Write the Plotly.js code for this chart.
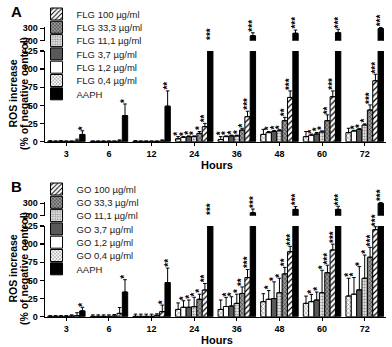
<!DOCTYPE html>
<html><head><meta charset="utf-8">
<script src="https://cdn.plot.ly/plotly-3.0.1.min.js"></script>
<style>html,body{margin:0;padding:0;background:#fff}#chart{width:392px;height:347px}</style>
</head><body><div id="chart"></div>
<script>
// ---------- DATA ----------
const hours = ['3', '6', '12', '24', '36', '48', '60', '72'];
const concLabels = ['0,4', '1,2', '3,7', '11,1', '33,3', '100'];

// Panel A (FLG), ROS increase (% of negative control)
const flg04  = [0.5, 0.5, 0.5, 4, 3, 10, 7, 12.5];
const flg12  = [0.5, 0.5, 0.5, 6, 7, 12.5, 9, 14.7];
const flg37  = [0.8, 0.5, 0.5, 7, 8, 14, 10.6, 17];
const flg111 = [0.5, 0.5, 0.5, 7, 8, 15, 13.4, 23];
const flg333 = [0.5, 0.5, 0.5, 11.5, 16, 29, 29, 43.7];
const flg100 = [1, 1, 1, 20.7, 34.5, 61, 62, 84];
const aaphA  = [10, 36, 49, 160, 240, 260, 265, 298];
const flg04Err  = [1, 0.5, 1, 3, 4, 7, 7, 6];
const flg12Err  = [0.5, 0.5, 0.5, 1, 1, 1.5, 1.5, 1];
const flg37Err  = [0.5, 0.5, 0.5, 1, 1, 1.5, 2, 1];
const flg111Err = [0.5, 0.5, 0.5, 1, 1, 1.5, 1.5, 1.5];
const flg333Err = [0.5, 0.5, 0.5, 2.5, 2.5, 4.5, 8, 7];
const flg100Err = [2.5, 1.5, 1.5, 4.5, 7.5, 9, 8, 9];
const aaphAErr  = [5, 16, 21, 15, 24, 26, 27, 8];
const flg04Sig  = ['', '', '', '*', '*', '', '', ''];
const flg12Sig  = ['', '', '', '*', '*', '*', '*', '*'];
const flg37Sig  = ['', '', '', '*', '*', '*', '*', '*'];
const flg111Sig = ['', '', '', '*', '*', '*', '*', '*'];
const flg333Sig = ['', '', '', '*', '*', '**', '**', '***'];
const flg100Sig = ['', '', '', '**', '***', '***', '***', '***'];
const aaphASig  = ['*', '*', '**', '***', '***', '***', '***', '***'];

// Panel B (GO)
const go04  = [0.5, 0.5, 0.5, 10, 10, 20.7, 18.4, 28.5];
const go12  = [0.5, 0.5, 0.5, 13, 14, 24, 20.7, 31];
const go37  = [0.5, 0.5, 0.5, 13, 14.7, 25, 23, 37];
const go111 = [0.5, 0.5, 0.5, 13.8, 18.4, 33, 33, 53];
const go333 = [1, 1, 2, 24, 32, 59, 60.6, 82];
const go100 = [1.5, 4.6, 7, 36.8, 54, 89.6, 92, 120];
const aaphB = [8, 34, 47, 165, 224, 251, 251, 300];
const go04Err  = [1, 2, 3, 9, 13, 11, 10, 24.5];
const go12Err  = [1, 2, 3, 9, 12.7, 12, 10, 23];
const go37Err  = [1, 2, 3, 10, 12.8, 23, 11, 32];
const go111Err = [1, 2, 3, 13, 12.6, 20, 31, 32];
const go333Err = [1.5, 2, 2, 7, 9, 9, 10.4, 13.6];
const go100Err = [4, 8, 9, 9, 11, 7.4, 8, 4];
const aaphBErr = [5, 17, 20, 15, 30, 22, 25, 8];
const go04Sig  = ['', '', '', '', '', '', '', '*'];
const go12Sig  = ['', '', '', '*', '*', '*', '*', '*'];
const go37Sig  = ['', '', '', '*', '*', '*', '*', '*'];
const go111Sig = ['', '', '', '*', '*', '*', '*', '*'];
const go333Sig = ['', '', '', '*', '**', '**', '***', '***'];
const go100Sig = ['', '', '*', '**', '***', '***', '***', '***'];
const aaphBSig = ['*', '*', '**', '***', '***', '***', '***', '***'];

// ---------- STYLE / LAYOUT ----------
const H = 347, W = 392, ML = 44.5, MR = 5.5;
const PW = W - ML - MR;
const py = y => (H - y) / H;          // pixel y -> paper fraction
const px = x => (x - ML) / PW;        // pixel x -> paper fraction
const FONT = 'Liberation Sans, Arial, sans-serif';
const BARGAP = 0.12;
const xIdx = hours.map((h, i) => i);

const styles = [
  {color: '#ffffff', pattern: {shape: 'x', fgcolor: '#7a7a7a', bgcolor: '#ffffff', size: 3, solidity: 0.35}},
  {color: '#ffffff'},
  {color: '#595959'},
  {color: '#ffffff', pattern: {shape: '.', fgcolor: '#8a8a8a', bgcolor: '#e6e6e6', size: 3, solidity: 0.4}},
  {color: '#9a9a9a', pattern: {shape: 'x', fgcolor: '#2b2b2b', bgcolor: '#9a9a9a', size: 3, solidity: 0.35}},
  {color: '#ffffff', pattern: {shape: '/', fgcolor: '#000000', bgcolor: '#ffffff', size: 4, solidity: 0.3}},
  {color: '#000000'}
];
// legend order: 100, 33.3, 11.1, 3.7, 1.2, 0.4, AAPH
const legendSlot = [5, 4, 3, 2, 1, 0, 6];

const panels = [
  {prefix: 'FLG', vals: [flg04, flg12, flg37, flg111, flg333, flg100, aaphA],
   errs: [flg04Err, flg12Err, flg37Err, flg111Err, flg333Err, flg100Err, aaphAErr],
   sigs: [flg04Sig, flg12Sig, flg37Sig, flg111Sig, flg333Sig, flg100Sig, aaphASig],
   xa: 'x', lo: 'y', hi: 'y2', off: 0, legBase: 0},
  {prefix: 'GO', vals: [go04, go12, go37, go111, go333, go100, aaphB],
   errs: [go04Err, go12Err, go37Err, go111Err, go333Err, go100Err, aaphBErr],
   sigs: [go04Sig, go12Sig, go37Sig, go111Sig, go333Sig, go100Sig, aaphBSig],
   xa: 'x2', lo: 'y3', hi: 'y4', off: 175, legBase: 7}
];

const traces = [];
const annotations = [];
const layout = {
  width: W, height: H,
  margin: {l: ML, r: MR, t: 0, b: 0, autoexpand: false},
  paper_bgcolor: '#fff', plot_bgcolor: 'rgba(0,0,0,0)',
  barmode: 'group', bargap: BARGAP, bargroupgap: 0,
  font: {family: FONT, color: '#000'},
  showlegend: true
};

const tickfont = {family: FONT, size: 9, color: '#000', weight: 'bold'};
const axCommon = {showgrid: false, zeroline: false, showline: true, linecolor: '#000', linewidth: 1.5,
  ticks: 'outside', tickcolor: '#000', tickwidth: 1.5, tickfont: tickfont, fixedrange: true};

const bw = (1 - BARGAP) / 7;

panels.forEach((p, pi) => {
  const xName = pi === 0 ? 'xaxis' : 'xaxis2';
  const loName = pi === 0 ? 'yaxis' : 'yaxis3';
  const hiName = pi === 0 ? 'yaxis2' : 'yaxis4';
  const hiTop = 312;
  const upBottomPx = 40.7 + p.off, upScale = 0.124;
  layout[xName] = Object.assign({}, axCommon, {
    domain: [0, 1], anchor: p.lo, range: [-0.5, 7.5],
    tickvals: xIdx, ticktext: hours, ticklen: 3, tickwidth: 1
  });
  layout[loName] = Object.assign({}, axCommon, {
    domain: [py(141.7 + p.off), py(51 + p.off)], anchor: p.xa, range: [0, 125],
    tickvals: [0, 25, 50, 75, 100, 125], ticklen: 4
  });
  layout[hiName] = Object.assign({}, axCommon, {
    domain: [py(upBottomPx), py(upBottomPx - (hiTop - 200) * upScale)], anchor: p.xa, range: [200, hiTop],
    tickvals: [200, 300], ticklen: 4
  });

  for (let k = 0; k < 7; k++) {
    const name = k === 6 ? 'AAPH' : (p.prefix + ' ' + concLabels[k] + ' µg/ml');
    const legIdx = p.legBase + legendSlot[k] + 1;
    const legName = legIdx === 1 ? 'legend' : 'legend' + legIdx;
    const st = styles[k];
    const marker = {color: st.color, line: {color: '#000', width: 1}};
    if (st.pattern) marker.pattern = Object.assign({fillmode: 'replace'}, st.pattern);
    [p.lo, p.hi].forEach((ya, j) => {
      traces.push({
        type: 'bar', x: xIdx, y: p.vals[k], name: name,
        xaxis: p.xa, yaxis: ya, marker: marker,
        error_y: {type: 'data', array: p.errs[k], arrayminus: p.errs[k].map(() => 0), symmetric: false,
                  color: '#000', thickness: 1, width: 1.8},
        showlegend: j === 0, legend: legName, hoverinfo: 'skip'
      });
    });
    // legend box
    const slot = legendSlot[k];
    layout[legName] = {
      x: px(36), y: py(14 + slot * 13.3 + p.off), xanchor: 'left', yanchor: 'middle',
      bgcolor: 'rgba(0,0,0,0)', borderwidth: 0,
      font: {family: FONT, size: 9.5, color: '#1a1a1a'}, itemclick: false, itemdoubleclick: false
    };
    // significance stars
    for (let i = 0; i < hours.length; i++) {
      const s = p.sigs[k][i];
      if (!s) continue;
      const top = p.vals[k][i] + p.errs[k][i];
      let yref, yv;
      if (top <= 125) { yref = p.lo; yv = top; }
      else if (top < 200) { yref = p.hi; yv = 200; }
      else { yref = p.hi; yv = top; }
      annotations.push({
        x: i + (k - 3) * bw, y: yv, xref: p.xa, yref: yref,
        text: s, textangle: -90, showarrow: false, xanchor: 'center', yanchor: 'bottom',
        font: {family: FONT, size: 10, color: '#000', weight: 'bold'}, borderpad: 0, yshift: 0
      });
    }
  }

  // axis titles and labels
  annotations.push({xref: 'paper', yref: 'paper', x: px(12), y: py(94 + p.off), text: 'ROS increase',
    textangle: -90, showarrow: false, xanchor: 'center', yanchor: 'middle',
    font: {family: FONT, size: 10.5, color: '#000', weight: 'bold'}});
  annotations.push({xref: 'paper', yref: 'paper', x: px(23.5), y: py(94 + p.off), text: '(% of negative control)',
    textangle: -90, showarrow: false, xanchor: 'center', yanchor: 'middle',
    font: {family: FONT, size: 10.5, color: '#000', weight: 'bold'}});
  annotations.push({xref: 'paper', yref: 'paper', x: px(217), y: py(165 + p.off), text: 'Hours',
    showarrow: false, xanchor: 'center', yanchor: 'middle',
    font: {family: FONT, size: 11, color: '#000', weight: 'bold'}});
  annotations.push({xref: 'paper', yref: 'paper', x: px(15.5), y: py(11 + p.off), text: pi === 0 ? 'A' : 'B',
    showarrow: false, xanchor: 'center', yanchor: 'middle',
    font: {family: FONT, size: 15, color: '#000', weight: 'bold'}});
});

layout.annotations = annotations;
Plotly.newPlot('chart', traces, layout, {displayModeBar: false, staticPlot: true});
</script>
</body></html>
